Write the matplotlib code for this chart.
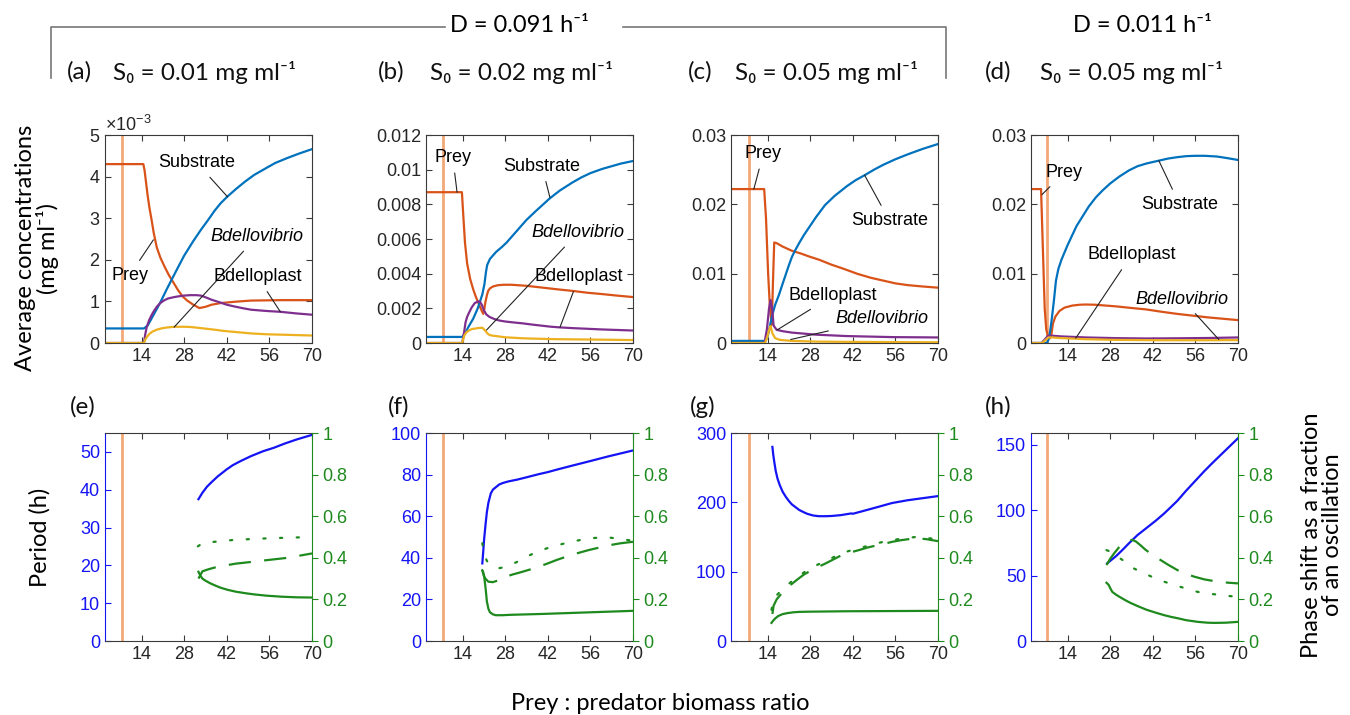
import numpy as np
import matplotlib.pyplot as plt
from matplotlib.lines import Line2D
from matplotlib.ticker import ScalarFormatter, FuncFormatter

plt.rcParams['font.family'] = ['Liberation Sans', 'DejaVu Sans']
plt.rcParams['mathtext.fontset'] = 'custom'
plt.rcParams['mathtext.rm'] = 'Liberation Sans'
plt.rcParams['mathtext.it'] = 'Liberation Sans:italic'
LBL = ['Lato', 'DejaVu Sans']

# colours (matlab default order + figure extras)
c_prey, c_sub, c_plast, c_vib = '#D95319', '#0072BD', '#7E2F8E', '#EDB120'
c_crit = '#F3A878'
c_per = '#1414F5'
c_ph = '#1E8A1E'
c_ax = '#3a3a3a'

xticks = [14, 28, 42, 56, 70]
x_crit = [7.7, 7.5, 7.8, 7.1]   # orange line, one per column

# ---------- top row: average concentrations (values in 1e-3 mg/ml) ----------
prey_a_x = [2, 14.6, 15.0, 15.5, 16, 16.6, 17.3, 18, 19, 20.2, 21.6, 23, 24.5, 26, 27.5, 29, 31, 33, 35, 37, 40, 44.4, 50, 60, 70]
prey_a_y = [4.3, 4.3, 4.15, 3.85, 3.55, 3.25, 2.96, 2.65, 2.3, 2.05, 1.83, 1.63, 1.45, 1.27, 1.12, 1.02, 0.92, 0.84, 0.87, 0.92, 0.96, 0.99, 1.02, 1.03, 1.03]
sub_a_x = [2, 14.8, 16, 17, 18.5, 20, 22, 23.8, 26, 28, 31, 33.5, 36, 38, 40, 42.2, 45, 48, 51, 55.3, 58, 62, 66, 70]
sub_a_y = [0.35, 0.35, 0.42, 0.55, 0.75, 0.95, 1.25, 1.51, 1.82, 2.1, 2.45, 2.72, 2.97, 3.18, 3.36, 3.52, 3.7, 3.88, 4.04, 4.22, 4.33, 4.45, 4.56, 4.66]
plast_a_x = [2, 14.8, 15.2, 15.7, 16.5, 17.3, 18, 19, 20, 21.3, 22.7, 24.5, 26, 28, 30, 32, 33.5, 35, 37, 40, 42, 44.4, 47, 50, 55, 59.6, 65, 70]
plast_a_y = [0, 0, 0.2, 0.38, 0.55, 0.67, 0.76, 0.87, 0.95, 1.02, 1.07, 1.1, 1.12, 1.14, 1.15, 1.15, 1.14, 1.1, 1.04, 0.97, 0.92, 0.88, 0.84, 0.8, 0.77, 0.75, 0.71, 0.68]
vib_a_x = [2, 14.8, 15.2, 15.8, 16.6, 17.5, 19, 20.5, 22, 24.8, 28, 30, 32, 35, 38, 41, 44, 47, 50, 55, 60, 65, 70]
vib_a_y = [0, 0, 0.08, 0.15, 0.22, 0.27, 0.32, 0.35, 0.37, 0.39, 0.39, 0.385, 0.37, 0.345, 0.32, 0.29, 0.27, 0.25, 0.23, 0.21, 0.2, 0.19, 0.18]

prey_b_x = [2, 13.8, 14.2, 14.8, 15.5, 16.5, 17.5, 18.3, 19, 19.6, 20.2, 20.8, 21.2, 21.5, 22, 22.4, 23, 24, 25.5, 27.4, 30, 35, 40, 45, 50.4, 55, 60, 65, 70]
prey_b_y = [8.7, 8.7, 7.5, 5.8, 4.6, 3.7, 3.1, 2.7, 2.4, 2.15, 1.9, 1.68, 2.0, 2.35, 2.75, 3.0, 3.15, 3.26, 3.33, 3.36, 3.36, 3.3, 3.2, 3.1, 3.0, 2.9, 2.82, 2.73, 2.65]
sub_b_x = [2, 13.9, 15, 16, 17.5, 19, 20.5, 21.2, 21.7, 22.1, 23, 25, 27, 28.5, 31, 35, 38, 42.7, 46, 50, 53, 56, 60, 63, 66, 70]
sub_b_y = [0.35, 0.35, 0.6, 0.95, 1.4, 2.0, 2.8, 3.4, 4.1, 4.5, 4.85, 5.25, 5.55, 5.8, 6.3, 7.1, 7.6, 8.35, 8.8, 9.25, 9.55, 9.8, 10.05, 10.2, 10.35, 10.5]
plast_b_x = [2, 13.9, 14.2, 14.5, 15, 15.5, 16, 17, 18, 19.1, 19.7, 20.3, 21, 21.8, 22.9, 24.5, 26, 28, 30, 33.9, 37, 40, 43, 46, 50, 55, 60, 65, 70]
plast_b_y = [0, 0, 0.3, 0.6, 1.2, 1.5, 1.7, 2.05, 2.3, 2.4, 2.38, 2.22, 1.9, 1.65, 1.5, 1.38, 1.3, 1.24, 1.2, 1.13, 1.06, 1.0, 0.94, 0.9, 0.86, 0.82, 0.78, 0.75, 0.72]
vib_b_x = [2, 13.9, 14.2, 14.5, 15, 15.5, 16.2, 17, 19, 20.5, 21, 21.5, 22.2, 22.9, 24, 25, 28, 31, 34, 40, 45, 56, 70]
vib_b_y = [0, 0, 0.2, 0.4, 0.55, 0.65, 0.73, 0.8, 0.86, 0.88, 0.8, 0.7, 0.55, 0.46, 0.42, 0.4, 0.33, 0.3, 0.27, 0.24, 0.22, 0.2, 0.17]

prey_c_x = [2, 12.9, 13.5, 14.2, 14.8, 15.4, 15.8, 16.2, 17, 19, 22, 25, 27.5, 31, 35, 39, 43.7, 48, 52, 56, 60, 65, 70]
prey_c_y = [22.2, 22.2, 18, 10, 5, 2.6, 9, 14.5, 14.4, 13.9, 13.3, 12.9, 12.5, 12.0, 11.3, 10.7, 9.95, 9.4, 9.0, 8.6, 8.35, 8.15, 7.98]
sub_c_x = [2, 13.3, 14, 14.5, 15, 15.6, 16.5, 17.8, 19, 20, 21, 22, 23, 24.5, 26, 28, 30, 32.9, 36, 40, 43, 45.9, 49, 52, 56, 60, 65, 70]
sub_c_y = [0.3, 0.3, 0.9, 1.8, 2.9, 4.1, 5.5, 7.0, 8.6, 9.9, 11.2, 12.4, 13.3, 14.5, 15.6, 16.9, 18.2, 19.9, 21.2, 22.6, 23.5, 24.2, 25.0, 25.7, 26.5, 27.2, 28.0, 28.7]
plast_c_x = [2, 13, 13.8, 14.5, 15, 15.5, 16, 17, 19, 22, 30, 40, 55, 70]
plast_c_y = [0, 0, 2, 5, 6.2, 5, 2.5, 1.9, 1.7, 1.5, 1.2, 1.0, 0.85, 0.8]
vib_c_x = [2, 13.2, 14, 14.6, 15, 15.6, 16.5, 18, 22, 30, 45, 70]
vib_c_y = [0, 0, 1.0, 2.0, 2.45, 1.4, 0.7, 0.45, 0.3, 0.2, 0.15, 0.1]

prey_d_x = [2, 5.3, 5.8, 6.5, 7, 7.6, 8.3, 8.7, 9.2, 10, 11.3, 13, 15.6, 18, 20, 23, 25, 28, 30, 35, 39.7, 45, 50, 55, 60, 65, 70]
prey_d_y = [22.2, 22.2, 15, 5, 2, 0.9, 0.7, 1.2, 2.8, 3.8, 4.6, 5.1, 5.4, 5.52, 5.55, 5.52, 5.45, 5.35, 5.28, 5.05, 4.85, 4.5, 4.2, 3.95, 3.7, 3.5, 3.3]
sub_d_x = [2, 7.3, 8, 8.7, 9.5, 10.2, 11, 12, 14, 15.6, 17, 19, 21, 23.3, 25.5, 28, 31, 34.2, 37, 40, 44, 47, 50, 53, 56, 59, 63, 66, 70]
sub_d_y = [0, 0, 0.8, 3.0, 6.0, 9.0, 10.7, 12.0, 14.1, 15.6, 16.9, 18.3, 19.7, 21.0, 22.0, 23.0, 24.0, 24.9, 25.5, 25.9, 26.3, 26.6, 26.8, 26.95, 27.0, 27.0, 26.9, 26.7, 26.4]
plast_d_x = [2, 5.5, 6.5, 7.5, 9, 12, 20, 30, 40, 50, 60, 70]
plast_d_y = [0, 0, 0.5, 1.0, 1.05, 0.95, 0.8, 0.7, 0.65, 0.68, 0.72, 0.8]
vib_d_x = [2, 5.7, 6.7, 7.7, 9, 12, 20, 30, 45, 60, 70]
vib_d_y = [0, 0, 0.4, 0.8, 0.8, 0.7, 0.55, 0.45, 0.4, 0.4, 0.42]

# ---------- bottom row: period (h) and phase shift fractions ----------
per_e_x = [32.7, 34, 35.5, 37, 39, 42, 44, 46.6, 50, 54, 57.5, 61, 65, 70]
per_e_y = [37.5, 39.2, 40.8, 42, 43.5, 45.4, 46.5, 47.6, 48.9, 50.2, 51.1, 52.2, 53.3, 54.5]
sol_e_x = [32.7, 33.3, 34, 35, 36.5, 38, 40, 42.3, 45, 48, 51, 55, 60, 65, 70]
sol_e_y = [0.333, 0.315, 0.3, 0.29, 0.278, 0.268, 0.256, 0.246, 0.237, 0.23, 0.224, 0.218, 0.213, 0.21, 0.209]
das_e_x = [32.7, 34, 36, 39, 45, 50, 55.3, 62, 70]
das_e_y = [0.30, 0.335, 0.345, 0.357, 0.372, 0.38, 0.389, 0.40, 0.421]
dot_e_x = [32.5, 34, 38, 44.4, 50, 56, 63, 70]
dot_e_y = [0.455, 0.47, 0.477, 0.486, 0.49, 0.494, 0.497, 0.5]

per_f_x = [20.5, 20.8, 21.1, 21.6, 22, 22.5, 23.3, 24, 25, 26, 27.1, 29, 32, 35, 39, 42, 45, 50, 55.4, 62, 70]
per_f_y = [37.3, 43, 49, 56.6, 62, 66.5, 71, 72.8, 74, 75.2, 75.9, 76.7, 77.6, 78.7, 80.2, 81.2, 82.4, 84.3, 86.3, 88.8, 91.6]
sol_f_x = [20.5, 20.8, 21.2, 21.6, 22, 22.5, 23, 24, 24.9, 27, 30, 40, 50, 60, 70]
sol_f_y = [0.34, 0.33, 0.3, 0.25, 0.19, 0.155, 0.138, 0.128, 0.124, 0.124, 0.126, 0.13, 0.135, 0.14, 0.145]
das_f_x = [20.5, 21, 21.5, 22.5, 24, 26, 28.2, 30.5, 33, 36, 39, 42, 45, 50, 55.4, 62, 66, 70]
das_f_y = [0.34, 0.315, 0.3, 0.285, 0.283, 0.293, 0.309, 0.32, 0.33, 0.343, 0.357, 0.373, 0.39, 0.415, 0.437, 0.46, 0.47, 0.477]
dot_f_x = [20.5, 20.8, 21.3, 22, 23, 24.5, 26, 28, 30, 33, 36, 39, 42, 45, 50, 55, 60.8, 65, 70]
dot_f_y = [0.47, 0.44, 0.41, 0.385, 0.368, 0.356, 0.35, 0.356, 0.367, 0.388, 0.412, 0.432, 0.447, 0.46, 0.478, 0.492, 0.5, 0.492, 0.482]

per_g_x = [15.6, 15.9, 16.3, 16.7, 17.3, 18, 19, 20, 21, 22, 23.2, 24.4, 26, 27, 29, 30.9, 33, 35, 38, 41.5, 42, 45, 50, 54.9, 60, 65, 70]
per_g_y = [280, 268, 256, 245, 234, 225, 215, 208, 202, 197, 193, 189, 185.5, 183.5, 181, 180, 180, 180.3, 181.5, 184, 183.5, 187, 193, 199, 203, 206, 209]
sol_g_x = [15.3, 15.8, 16.5, 17.5, 18.9, 20.5, 22.5, 24.4, 28, 40, 55, 70]
sol_g_y = [0.087, 0.097, 0.108, 0.12, 0.129, 0.134, 0.138, 0.14, 0.141, 0.143, 0.144, 0.145]
das_g_x = [15.6, 16, 17, 18, 19, 20.5, 22.2, 24, 26, 29, 33.1, 36, 38, 41, 44, 47, 50, 53, 55, 58, 62.6, 66, 70]
das_g_y = [0.13, 0.17, 0.2, 0.218, 0.235, 0.256, 0.277, 0.298, 0.32, 0.345, 0.373, 0.395, 0.41, 0.425, 0.437, 0.45, 0.46, 0.47, 0.477, 0.485, 0.494, 0.49, 0.48]
dot_g_x = [15.3, 16, 17, 18, 19, 20.5, 22.2, 24, 26, 29, 33.1, 36, 38, 41, 44, 47, 50, 53, 55, 58, 62.6, 66, 70]
dot_g_y = [0.15, 0.2, 0.22, 0.235, 0.25, 0.268, 0.29, 0.31, 0.33, 0.357, 0.385, 0.405, 0.42, 0.434, 0.445, 0.458, 0.47, 0.48, 0.485, 0.492, 0.5, 0.495, 0.49]

per_h_x = [27, 30, 32, 34.7, 37, 40, 43, 45.8, 48, 50, 53, 56.8, 59, 62, 66, 70]
per_h_y = [59.3, 65, 69.5, 75.9, 81, 86.5, 92, 97.6, 102.5, 107, 115, 124.5, 130, 137, 146, 155]
sol_h_x = [26.8, 27.5, 28, 28.7, 30, 31, 33, 34.7, 37, 40, 43, 45.8, 48, 50, 53, 56.8, 60, 62.3, 66, 70]
sol_h_y = [0.28, 0.27, 0.255, 0.236, 0.222, 0.213, 0.196, 0.183, 0.168, 0.15, 0.136, 0.124, 0.116, 0.11, 0.1, 0.092, 0.088, 0.087, 0.088, 0.092]
das_h_x = [26.8, 28, 29.5, 31, 32.5, 34, 35.3, 36.5, 38, 39.5, 42, 44.6, 47, 50.2, 53, 55.7, 59, 63.4, 67, 70]
das_h_y = [0.365, 0.395, 0.425, 0.452, 0.472, 0.484, 0.486, 0.478, 0.46, 0.44, 0.413, 0.389, 0.367, 0.34, 0.322, 0.309, 0.296, 0.285, 0.28, 0.277]
dot_h_x = [26.8, 28, 30, 32, 34.7, 37, 40, 43, 45.8, 48, 50, 53, 56.8, 60, 62, 66, 70]
dot_h_y = [0.437, 0.43, 0.41, 0.39, 0.357, 0.34, 0.32, 0.3, 0.285, 0.274, 0.265, 0.252, 0.236, 0.229, 0.225, 0.218, 0.212]

top_tags = ['(a)', '(b)', '(c)', '(d)']
top_titles = ['S\u2080 = 0.01 mg ml\u207b\u00b9', 'S\u2080 = 0.02 mg ml\u207b\u00b9',
              'S\u2080 = 0.05 mg ml\u207b\u00b9', 'S\u2080 = 0.05 mg ml\u207b\u00b9']
bot_tags = ['(e)', '(f)', '(g)', '(h)']

fig = plt.figure(figsize=(13.5, 7.15), dpi=100)
W, H = 1350, 715
lefts = [105, 426, 731, 1031]
tag_x = [67, 378, 688, 985]
s0_x = [113, 430, 735, 1040]
btag_x = [70, 388, 690, 985]


def style(ax, color=c_ax):
    for s in ax.spines.values():
        s.set_color(color)
        s.set_linewidth(0.8)
    ax.tick_params(direction='in', length=4, width=0.8, color=color,
                   labelcolor='#262626', labelsize=13, top=True, right=True)
    ax.set_xlim(2, 70)
    ax.set_xticks(xticks)


top = [
    (prey_a_x, prey_a_y, sub_a_x, sub_a_y, plast_a_x, plast_a_y, vib_a_x, vib_a_y, 5e-3, 1e-3),
    (prey_b_x, prey_b_y, sub_b_x, sub_b_y, plast_b_x, plast_b_y, vib_b_x, vib_b_y, 0.012, 0.002),
    (prey_c_x, prey_c_y, sub_c_x, sub_c_y, plast_c_x, plast_c_y, vib_c_x, vib_c_y, 0.03, 0.01),
    (prey_d_x, prey_d_y, sub_d_x, sub_d_y, plast_d_x, plast_d_y, vib_d_x, vib_d_y, 0.03, 0.01),
]

# annotation positions (text, point) in data units, per panel
notes = [
    [('Substrate', (32.2, 4.33e-3), (42.3, 3.51e-3)), ('Prey', (10.1, 1.63e-3), (17.9, 2.48e-3)),
     ('Bdellovibrio', (51.8, 2.55e-3), (24.7, 0.38e-3)), ('Bdelloplast', (52.1, 1.59e-3), (59.6, 0.75e-3))],
    [('Prey', (10.8, 0.0107), (12.2, 0.0087)), ('Substrate', (40.1, 0.0102), (42.7, 0.0084)),
     ('Bdellovibrio', (51.9, 0.00636), (21.9, 0.00075)), ('Bdelloplast', (52.3, 0.00384), (46, 0.0009))],
    [('Prey', (12.6, 0.0273), (9.5, 0.0222)), ('Substrate', (54, 0.0177), (45.9, 0.0242)),
     ('Bdelloplast', (35.3, 0.0068), (17.2, 0.0019)), ('Bdellovibrio', (51.5, 0.0035), (21.6, 0.0005))],
    [('Prey', (12.9, 0.0246), (5.6, 0.0214)), ('Substrate', (50.8, 0.02), (44, 0.0263)),
     ('Bdelloplast', (35, 0.0127), (16.7, 0.0007)), ('Bdellovibrio', (51.7, 0.0063), (63.7, 0.0005))],
]

for i, d in enumerate(top):
    ax = fig.add_axes([lefts[i] / W, 1 - 343 / H, 207 / W, 208 / H])
    style(ax)
    ax.axvline(x_crit[i], color=c_crit, lw=2)
    for (xs, ys, col) in [(d[0], d[1], c_prey), (d[2], d[3], c_sub),
                          (d[4], d[5], c_plast), (d[6], d[7], c_vib)]:
        ax.plot(xs, np.array(ys) * 1e-3, color=col, lw=1.6)
    ax.set_ylim(0, d[8])
    ax.set_yticks(np.arange(0, d[8] + d[9] / 2, d[9]))
    if i == 0:
        fmt = ScalarFormatter(useMathText=True)
        fmt.set_powerlimits((0, 0))
        ax.yaxis.set_major_formatter(fmt)
        ax.yaxis.get_offset_text().set_fontsize(13)
        ax.yaxis.get_offset_text().set_color('#262626')
    else:
        ax.yaxis.set_major_formatter(FuncFormatter(lambda v, p: '%g' % round(v, 4)))
    for txt, xyt, xy in notes[i]:
        ax.annotate(txt, xy=xy, xytext=xyt, ha='center', va='center', fontsize=13,
                    style='italic' if txt == 'Bdellovibrio' else 'normal',
                    arrowprops=dict(arrowstyle='-', color='#222222', lw=0.8, shrinkA=3, shrinkB=0))
    fig.text(tag_x[i] / W, 1 - 72 / H, top_tags[i], family=LBL, fontsize=17.5,
             va='center', ha='left', color='#111111')
    fig.text(s0_x[i] / W, 1 - 72 / H, top_titles[i], family=LBL, fontsize=17.5,
             va='center', ha='left', color='#111111')

bottom = [
    (per_e_x, per_e_y, sol_e_x, sol_e_y, das_e_x, das_e_y, dot_e_x, dot_e_y, 55, 10),
    (per_f_x, per_f_y, sol_f_x, sol_f_y, das_f_x, das_f_y, dot_f_x, dot_f_y, 100, 20),
    (per_g_x, per_g_y, sol_g_x, sol_g_y, das_g_x, das_g_y, dot_g_x, dot_g_y, 300, 100),
    (per_h_x, per_h_y, sol_h_x, sol_h_y, das_h_x, das_h_y, dot_h_x, dot_h_y, 159, 50),
]

for i, d in enumerate(bottom):
    ax = fig.add_axes([lefts[i] / W, 1 - 641 / H, 207 / W, 208 / H])
    style(ax)
    ax.tick_params(right=False)
    ax.axvline(x_crit[i], color=c_crit, lw=2)
    ax.plot(d[0], d[1], color=c_per, lw=1.6)
    ax.set_ylim(0, d[8])
    ax.set_yticks(np.arange(0, d[8] + d[9] / 2, d[9]))
    ax.spines['left'].set_color(c_per)
    ax.tick_params(axis='y', colors=c_per, labelcolor=c_per)
    ax.spines['right'].set_visible(False)
    tw = ax.twinx()
    tw.set_ylim(0, 1)
    tw.set_yticks([0, 0.2, 0.4, 0.6, 0.8, 1])
    tw.set_yticklabels(['0', '0.2', '0.4', '0.6', '0.8', '1'])
    tw.plot(d[2], d[3], color=c_ph, lw=1.6)
    tw.plot(d[4], d[5], color=c_ph, lw=1.6, dashes=(10, 6))
    tw.plot(d[6], d[7], color=c_ph, lw=1.6, dashes=(1, 6.5), dash_capstyle='round')
    for s in ['left', 'top', 'bottom']:
        tw.spines[s].set_visible(False)
    tw.spines['right'].set_color(c_ph)
    tw.spines['right'].set_linewidth(0.8)
    tw.tick_params(axis='y', direction='out', length=4, width=0.8, colors=c_ph,
                   labelcolor=c_ph, labelsize=13)
    fig.text(btag_x[i] / W, 1 - 407 / H, bot_tags[i], family=LBL, fontsize=17.5,
             va='center', ha='left', color='#111111')

# row and column labels
fig.text(37 / W, 1 - 248 / H, 'Average concentrations\n(mg ml\u207b\u00b9)', family=LBL,
         fontsize=17, rotation=90, ha='center', va='center', linespacing=1.05)
fig.text(40 / W, 1 - 537 / H, 'Period (h)', family=LBL, fontsize=17, rotation=90,
         ha='center', va='center')
fig.text(1322 / W, 1 - 535 / H, 'Phase shift as a fraction\nof an oscillation', family=LBL,
         fontsize=17, rotation=90, ha='center', va='center', linespacing=1.05)
fig.text(660 / W, 1 - 703 / H, 'Prey : predator biomass ratio', family=LBL, fontsize=17,
         ha='center', va='center')
fig.text(519 / W, 1 - 25 / H, 'D = 0.091 h\u207b\u00b9', family=LBL, fontsize=17,
         ha='center', va='center')
fig.text(1142 / W, 1 - 25 / H, 'D = 0.011 h\u207b\u00b9', family=LBL, fontsize=17,
         ha='center', va='center')

# bracket over the first three columns
for xs, ys in [([51, 51, 445], [78, 27, 27]), ([623, 946, 946], [27, 27, 78])]:
    fig.add_artist(Line2D([x / W for x in xs], [1 - y / H for y in ys],
                          transform=fig.transFigure, color='#777777', lw=1.2))

fig.savefig('out.png', dpi=100)
